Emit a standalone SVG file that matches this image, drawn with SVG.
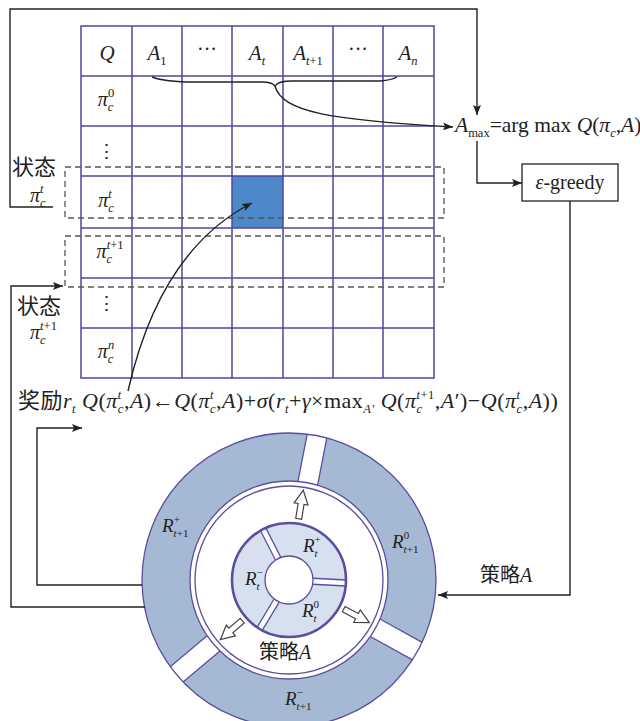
<svg xmlns="http://www.w3.org/2000/svg" width="640" height="721" viewBox="0 0 640 721">
<style>
.t{font-family:"Liberation Serif","Noto Sans CJK SC",serif;fill:#222}
.i{font-style:italic}
.s{font-size:11px}
.u{font-size:12.5px}
.g{stroke:#4e479e;stroke-width:1.5;fill:none}
.k{stroke:#222;stroke-width:1.4;fill:none}
.d{stroke:#555;stroke-width:1.3;fill:none;stroke-dasharray:6 4}
.p{stroke:#5b4ea0;stroke-width:1.3;fill:none}
.cjk{font-family:"Noto Sans CJK SC",sans-serif}
</style>
<defs>
<marker id="ah" viewBox="0 0 10 8" refX="10" refY="4" markerWidth="10" markerHeight="8" markerUnits="userSpaceOnUse" orient="auto"><path d="M0,0L10,4L0,8L2,4z" fill="#222"/></marker>
</defs>
<rect width="640" height="721" fill="#fff"/>

<g id="qtable">
<rect x="232" y="176" width="51" height="52" fill="#4d88c8"/>
<path class="g" d="M81,26H434V378H81Z M81,76H434 M81,126H434 M81,176H434 M81,228H434 M81,278H434 M81,328H434 M132,26V378 M182,26V378 M232,26V378 M283,26V378 M333,26V378 M383,26V378"/>
<text class="t i" x="107" y="60" text-anchor="middle" font-size="21">Q</text>
<text class="t" x="157" y="60" text-anchor="middle" font-size="21"><tspan class="i">A</tspan><tspan class="u" dy="5">1</tspan></text>
<text class="t" x="207" y="56" text-anchor="middle" font-size="20">···</text>
<text class="t" x="257" y="60" text-anchor="middle" font-size="21"><tspan class="i">A</tspan><tspan class="u i" dy="5">t</tspan></text>
<text class="t" x="308" y="60" text-anchor="middle" font-size="21"><tspan class="i">A</tspan><tspan class="u i" dy="5">t</tspan><tspan class="u">+1</tspan></text>
<text class="t" x="358" y="56" text-anchor="middle" font-size="20">···</text>
<text class="t" x="408" y="60" text-anchor="middle" font-size="21"><tspan class="i">A</tspan><tspan class="u i" dy="5">n</tspan></text>
<text class="t" x="106" y="106" text-anchor="middle" font-size="20"><tspan class="i">π</tspan><tspan class="u i" dy="5">c</tspan><tspan class="u" dx="-5.5" dy="-14.5">0</tspan></text>
<text x="106" y="158" text-anchor="middle" font-family="DejaVu Serif" font-size="19" fill="#222">⋮</text>
<text class="t" x="106" y="207" text-anchor="middle" font-size="20"><tspan class="i">π</tspan><tspan class="u i" dy="5">c</tspan><tspan class="u i" dx="-5.5" dy="-14.5">t</tspan></text>
<text class="t" x="110" y="258" text-anchor="middle" font-size="20"><tspan class="i">π</tspan><tspan class="u i" dy="5">c</tspan><tspan class="u i" dx="-5.5" dy="-14.5">t</tspan><tspan class="u">+1</tspan></text>
<text x="106" y="310" text-anchor="middle" font-family="DejaVu Serif" font-size="19" fill="#222">⋮</text>
<text class="t" x="106" y="358" text-anchor="middle" font-size="20"><tspan class="i">π</tspan><tspan class="u i" dy="5">c</tspan><tspan class="u i" dx="-5.5" dy="-14.5">n</tspan></text>
</g>

<g id="state-boxes">
<rect class="d" x="65" y="167" width="379" height="51"/>
<rect class="d" x="65" y="236" width="379" height="51"/>
</g>

<g id="state-labels">
<text class="t cjk" x="12" y="175" font-size="22">状态</text>
<text class="t" x="30" y="202" font-size="20"><tspan class="i">π</tspan><tspan class="u i" dy="5">c</tspan><tspan class="u i" dx="-5.5" dy="-14.5">t</tspan></text>
<text class="t cjk" x="17" y="314" font-size="22">状态</text>
<text class="t" x="30" y="339" font-size="20"><tspan class="i">π</tspan><tspan class="u i" dy="5">c</tspan><tspan class="u i" dx="-5.5" dy="-14.5">t</tspan><tspan class="u">+1</tspan></text>
</g>

<g id="amax">
<text class="t" x="455" y="132" font-size="21.5"><tspan class="i">A</tspan><tspan class="u" dy="5">max</tspan><tspan dy="-5">=arg max </tspan><tspan class="i">Q</tspan>(<tspan class="i">π</tspan><tspan class="u i" dy="5">c</tspan><tspan dy="-5">,</tspan><tspan class="i">A</tspan>)</text>
</g>

<g id="egreedy">
<rect x="522" y="164" width="96" height="37" fill="#fff" stroke="#222" stroke-width="1.3"/>
<text class="t" x="570" y="189" text-anchor="middle" font-size="20"><tspan class="i">ε</tspan>-greedy</text>
</g>

<g id="formula">
<text class="t" x="18" y="408" font-size="22" letter-spacing="0.5"><tspan class="cjk">奖励</tspan><tspan class="i">r</tspan><tspan class="u i" dy="5">t</tspan><tspan dy="-5"> </tspan><tspan class="i">Q</tspan>(<tspan class="i">π</tspan><tspan class="u i" dy="5">c</tspan><tspan class="u i" dx="-6.05" dy="-14.5">t</tspan><tspan dx="2.1" dy="9.5">,</tspan><tspan class="i">A</tspan>)←<tspan class="i">Q</tspan>(<tspan class="i">π</tspan><tspan class="u i" dy="5">c</tspan><tspan class="u i" dx="-6.05" dy="-14.5">t</tspan><tspan dx="2.1" dy="9.5">,</tspan><tspan class="i">A</tspan>)+<tspan class="i">σ</tspan>(<tspan class="i">r</tspan><tspan class="u i" dy="5">t</tspan><tspan dy="-5">+</tspan><tspan class="i">γ</tspan>×max<tspan class="u i" dy="5">A′</tspan><tspan dy="-5"> </tspan><tspan class="i">Q</tspan>(<tspan class="i">π</tspan><tspan class="u i" dy="5">c</tspan><tspan class="u i" dx="-6.05" dy="-14.5">t</tspan><tspan class="u">+1</tspan><tspan dy="9.5">,</tspan><tspan class="i">A</tspan>′)−<tspan class="i">Q</tspan>(<tspan class="i">π</tspan><tspan class="u i" dy="5">c</tspan><tspan class="u i" dx="-6.05" dy="-14.5">t</tspan><tspan dx="2.1" dy="9.5">,</tspan><tspan class="i">A</tspan>))</text>
</g>

<g id="ring">
<circle cx="289" cy="580" r="123" fill="none" stroke="#a5b9d5" stroke-width="48"/>
<g transform="translate(289,580) rotate(-79)"><rect x="97" y="-10" width="52" height="20" fill="#fff"/><path class="p" d="M98.5,-10H146.7M98.5,10H146.7"/></g>
<g transform="translate(289,580) rotate(29)"><rect x="97" y="-10" width="52" height="20" fill="#fff"/><path class="p" d="M98.5,-10H146.7M98.5,10H146.7"/></g>
<g transform="translate(289,580) rotate(140)"><rect x="97" y="-10" width="52" height="20" fill="#fff"/><path class="p" d="M98.5,-10H146.7M98.5,10H146.7"/></g>
<circle class="p" cx="289" cy="580" r="147"/>
<circle class="p" cx="289" cy="580" r="99"/>
<circle class="p" cx="289" cy="580" r="94"/>
<circle cx="289" cy="580" r="57" fill="#d6e0ef"/>
<g transform="translate(289,580) rotate(-117)"><rect x="24" y="-3" width="33" height="6" fill="#fff"/><path class="p" d="M24,-3H57M24,3H57"/></g>
<g transform="translate(289,580) rotate(3)"><rect x="24" y="-3" width="33" height="6" fill="#fff"/><path class="p" d="M24,-3H57M24,3H57"/></g>
<g transform="translate(289,580) rotate(121)"><rect x="24" y="-3" width="33" height="6" fill="#fff"/><path class="p" d="M24,-3H57M24,3H57"/></g>
<circle cx="289" cy="580" r="57" fill="none" stroke="#5b4ea0" stroke-width="2.6"/>
<circle cx="289" cy="580" r="24" fill="#fff" stroke="#5b4ea0" stroke-width="1.3"/>
<g transform="translate(289,580) rotate(-81)"><polygon points="62,-3 77,-3 77,-7 91,0 77,7 77,3 62,3" fill="#fff" stroke="#444" stroke-width="1.2"/></g>
<g transform="translate(289,580) rotate(28)"><polygon points="62,-3 77,-3 77,-7 91,0 77,7 77,3 62,3" fill="#fff" stroke="#444" stroke-width="1.2"/></g>
<g transform="translate(289,580) rotate(139)"><polygon points="62,-3 77,-3 77,-7 91,0 77,7 77,3 62,3" fill="#fff" stroke="#444" stroke-width="1.2"/></g>
<text class="t" x="303" y="552" font-size="19"><tspan class="i">R</tspan><tspan class="s i" dy="5">t</tspan><tspan class="s" dx="-3.1" dy="-14">+</tspan></text>
<text class="t" x="245" y="585" font-size="19"><tspan class="i">R</tspan><tspan class="s i" dy="5">t</tspan><tspan class="s" dx="-3.1" dy="-14">−</tspan></text>
<text class="t" x="302" y="617" font-size="19"><tspan class="i">R</tspan><tspan class="s i" dy="5">t</tspan><tspan class="s" dx="-3.1" dy="-14">0</tspan></text>
<text class="t" x="259" y="659" font-size="20"><tspan class="cjk">策略</tspan><tspan class="i">A</tspan></text>
<text class="t" x="392" y="548" font-size="19"><tspan class="i">R</tspan><tspan class="s i" dy="5">t</tspan><tspan class="s">+1</tspan><tspan class="s" dx="-14.7" dy="-14">0</tspan></text>
<text class="t" x="162" y="532" font-size="19"><tspan class="i">R</tspan><tspan class="s i" dy="5">t</tspan><tspan class="s">+1</tspan><tspan class="s" dx="-14.7" dy="-14">+</tspan></text>
<text class="t" x="285" y="705" font-size="19"><tspan class="i">R</tspan><tspan class="s i" dy="5">t</tspan><tspan class="s">+1</tspan><tspan class="s" dx="-14.7" dy="-14">−</tspan></text>
</g>

<g id="policy-label">
<text class="t" x="480" y="582" font-size="20"><tspan class="cjk">策略</tspan><tspan class="i">A</tspan></text>
</g>

<g id="connectors">
<path class="k" d="M53,207H10V9H477V115" marker-end="url(#ah)"/>
<path class="k" d="M152,77Q165,82 195,82H262Q272,82 275,86Q278,81 292,81H380Q392,80 397,77"/>
<path class="k" d="M275,86C282,112 330,120 453,127" marker-end="url(#ah)"/>
<path class="k" d="M477,141V183H522" marker-end="url(#ah)"/>
<path class="k" d="M570,201V595H438" marker-end="url(#ah)"/>
<path class="k" d="M128,391Q160,250 252,203" marker-end="url(#ah)"/>
<path class="k" d="M145,607H11V286H63" marker-end="url(#ah)"/>
<path class="k" d="M142,585H37V428H82" marker-end="url(#ah)"/>
</g>
</svg>
